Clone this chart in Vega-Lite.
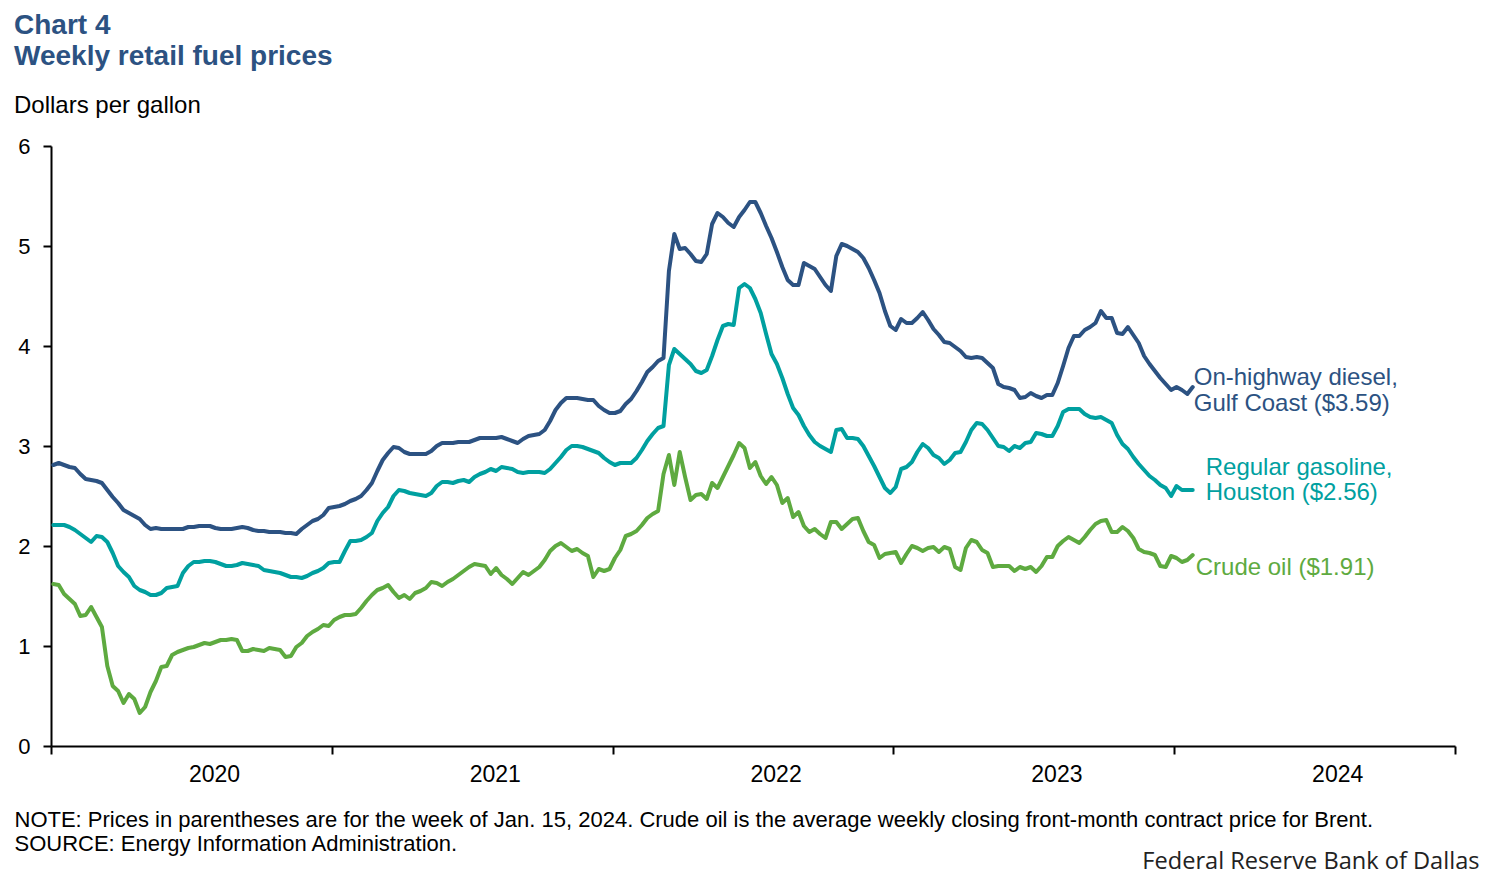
{
  "$schema": "https://vega.github.io/schema/vega-lite/v6.json",
  "width": 1404,
  "height": 600,
  "autosize": {"type": "none"},
  "padding": {"left": 51, "top": 146, "right": 39, "bottom": 136},
  "background": "white",
  "config": {
    "font": "Liberation Sans",
    "view": {"stroke": null},
    "axis": {"labelFont": "Liberation Sans", "titleFont": "Liberation Sans"},
    "title": {"font": "Liberation Sans", "subtitleFont": "Liberation Sans"}
  },
  "title": {
    "text": ["Chart 4", "Weekly retail fuel prices"],
    "subtitle": "Dollars per gallon",
    "anchor": "start",
    "frame": "group",
    "dx": -37,
    "fontSize": 28,
    "fontWeight": "bold",
    "color": "#2C5282",
    "lineHeight": 31,
    "subtitleFontSize": 24,
    "subtitleColor": "black",
    "subtitlePadding": 23,
    "offset": 17
  },
  "datasets": {
    "prices": [
      {"date":"2019-12-30","diesel":2.81,"gasoline":2.21,"crude":1.62},
      {"date":"2020-01-06","diesel":2.83,"gasoline":2.21,"crude":1.61},
      {"date":"2020-01-13","diesel":2.81,"gasoline":2.21,"crude":1.52},
      {"date":"2020-01-20","diesel":2.79,"gasoline":2.19,"crude":1.47},
      {"date":"2020-01-27","diesel":2.78,"gasoline":2.16,"crude":1.42},
      {"date":"2020-02-03","diesel":2.72,"gasoline":2.12,"crude":1.30},
      {"date":"2020-02-10","diesel":2.67,"gasoline":2.08,"crude":1.31},
      {"date":"2020-02-17","diesel":2.66,"gasoline":2.04,"crude":1.39},
      {"date":"2020-02-24","diesel":2.65,"gasoline":2.10,"crude":1.29},
      {"date":"2020-03-02","diesel":2.63,"gasoline":2.09,"crude":1.19},
      {"date":"2020-03-09","diesel":2.56,"gasoline":2.04,"crude":0.80},
      {"date":"2020-03-16","diesel":2.49,"gasoline":1.93,"crude":0.60},
      {"date":"2020-03-23","diesel":2.43,"gasoline":1.80,"crude":0.55},
      {"date":"2020-03-30","diesel":2.36,"gasoline":1.74,"crude":0.43},
      {"date":"2020-04-06","diesel":2.33,"gasoline":1.69,"crude":0.52},
      {"date":"2020-04-13","diesel":2.30,"gasoline":1.60,"crude":0.47},
      {"date":"2020-04-20","diesel":2.27,"gasoline":1.56,"crude":0.33},
      {"date":"2020-04-27","diesel":2.21,"gasoline":1.54,"crude":0.39},
      {"date":"2020-05-04","diesel":2.17,"gasoline":1.51,"crude":0.54},
      {"date":"2020-05-11","diesel":2.18,"gasoline":1.51,"crude":0.65},
      {"date":"2020-05-18","diesel":2.17,"gasoline":1.53,"crude":0.79},
      {"date":"2020-05-25","diesel":2.17,"gasoline":1.58,"crude":0.80},
      {"date":"2020-06-01","diesel":2.17,"gasoline":1.59,"crude":0.91},
      {"date":"2020-06-08","diesel":2.17,"gasoline":1.60,"crude":0.94},
      {"date":"2020-06-15","diesel":2.17,"gasoline":1.73,"crude":0.96},
      {"date":"2020-06-22","diesel":2.19,"gasoline":1.80,"crude":0.98},
      {"date":"2020-06-29","diesel":2.19,"gasoline":1.84,"crude":0.99},
      {"date":"2020-07-06","diesel":2.20,"gasoline":1.84,"crude":1.01},
      {"date":"2020-07-13","diesel":2.20,"gasoline":1.85,"crude":1.03},
      {"date":"2020-07-20","diesel":2.20,"gasoline":1.85,"crude":1.02},
      {"date":"2020-07-27","diesel":2.18,"gasoline":1.84,"crude":1.04},
      {"date":"2020-08-03","diesel":2.17,"gasoline":1.82,"crude":1.06},
      {"date":"2020-08-10","diesel":2.17,"gasoline":1.80,"crude":1.06},
      {"date":"2020-08-17","diesel":2.17,"gasoline":1.80,"crude":1.07},
      {"date":"2020-08-24","diesel":2.18,"gasoline":1.81,"crude":1.06},
      {"date":"2020-08-31","diesel":2.19,"gasoline":1.83,"crude":0.95},
      {"date":"2020-09-07","diesel":2.18,"gasoline":1.82,"crude":0.95},
      {"date":"2020-09-14","diesel":2.16,"gasoline":1.81,"crude":0.97},
      {"date":"2020-09-21","diesel":2.15,"gasoline":1.80,"crude":0.96},
      {"date":"2020-09-28","diesel":2.15,"gasoline":1.76,"crude":0.95},
      {"date":"2020-10-05","diesel":2.14,"gasoline":1.75,"crude":0.98},
      {"date":"2020-10-12","diesel":2.14,"gasoline":1.74,"crude":0.97},
      {"date":"2020-10-19","diesel":2.14,"gasoline":1.73,"crude":0.96},
      {"date":"2020-10-26","diesel":2.13,"gasoline":1.71,"crude":0.89},
      {"date":"2020-11-02","diesel":2.13,"gasoline":1.69,"crude":0.90},
      {"date":"2020-11-09","diesel":2.12,"gasoline":1.69,"crude":0.99},
      {"date":"2020-11-16","diesel":2.17,"gasoline":1.68,"crude":1.03},
      {"date":"2020-11-23","diesel":2.21,"gasoline":1.70,"crude":1.10},
      {"date":"2020-11-30","diesel":2.25,"gasoline":1.73,"crude":1.14},
      {"date":"2020-12-07","diesel":2.27,"gasoline":1.75,"crude":1.17},
      {"date":"2020-12-14","diesel":2.31,"gasoline":1.78,"crude":1.21},
      {"date":"2020-12-21","diesel":2.38,"gasoline":1.83,"crude":1.20},
      {"date":"2020-12-28","diesel":2.39,"gasoline":1.84,"crude":1.26},
      {"date":"2021-01-04","diesel":2.40,"gasoline":1.84,"crude":1.29},
      {"date":"2021-01-11","diesel":2.42,"gasoline":1.95,"crude":1.31},
      {"date":"2021-01-18","diesel":2.45,"gasoline":2.05,"crude":1.31},
      {"date":"2021-01-25","diesel":2.47,"gasoline":2.05,"crude":1.32},
      {"date":"2021-02-01","diesel":2.50,"gasoline":2.06,"crude":1.38},
      {"date":"2021-02-08","diesel":2.56,"gasoline":2.09,"crude":1.45},
      {"date":"2021-02-15","diesel":2.63,"gasoline":2.13,"crude":1.51},
      {"date":"2021-02-22","diesel":2.75,"gasoline":2.25,"crude":1.56},
      {"date":"2021-03-01","diesel":2.86,"gasoline":2.33,"crude":1.58},
      {"date":"2021-03-08","diesel":2.93,"gasoline":2.39,"crude":1.61},
      {"date":"2021-03-15","diesel":2.99,"gasoline":2.50,"crude":1.54},
      {"date":"2021-03-22","diesel":2.98,"gasoline":2.56,"crude":1.48},
      {"date":"2021-03-29","diesel":2.94,"gasoline":2.55,"crude":1.51},
      {"date":"2021-04-05","diesel":2.92,"gasoline":2.53,"crude":1.47},
      {"date":"2021-04-12","diesel":2.92,"gasoline":2.52,"crude":1.53},
      {"date":"2021-04-19","diesel":2.92,"gasoline":2.51,"crude":1.55},
      {"date":"2021-04-26","diesel":2.92,"gasoline":2.50,"crude":1.58},
      {"date":"2021-05-03","diesel":2.95,"gasoline":2.53,"crude":1.64},
      {"date":"2021-05-10","diesel":3.00,"gasoline":2.60,"crude":1.63},
      {"date":"2021-05-17","diesel":3.03,"gasoline":2.64,"crude":1.60},
      {"date":"2021-05-24","diesel":3.03,"gasoline":2.64,"crude":1.64},
      {"date":"2021-05-31","diesel":3.03,"gasoline":2.63,"crude":1.67},
      {"date":"2021-06-07","diesel":3.04,"gasoline":2.65,"crude":1.71},
      {"date":"2021-06-14","diesel":3.04,"gasoline":2.66,"crude":1.75},
      {"date":"2021-06-21","diesel":3.04,"gasoline":2.64,"crude":1.79},
      {"date":"2021-06-28","diesel":3.06,"gasoline":2.69,"crude":1.82},
      {"date":"2021-07-05","diesel":3.08,"gasoline":2.72,"crude":1.81},
      {"date":"2021-07-12","diesel":3.08,"gasoline":2.74,"crude":1.80},
      {"date":"2021-07-19","diesel":3.08,"gasoline":2.77,"crude":1.72},
      {"date":"2021-07-26","diesel":3.08,"gasoline":2.75,"crude":1.78},
      {"date":"2021-08-02","diesel":3.09,"gasoline":2.79,"crude":1.71},
      {"date":"2021-08-09","diesel":3.07,"gasoline":2.78,"crude":1.67},
      {"date":"2021-08-16","diesel":3.05,"gasoline":2.77,"crude":1.62},
      {"date":"2021-08-23","diesel":3.03,"gasoline":2.74,"crude":1.68},
      {"date":"2021-08-30","diesel":3.07,"gasoline":2.73,"crude":1.74},
      {"date":"2021-09-06","diesel":3.10,"gasoline":2.74,"crude":1.71},
      {"date":"2021-09-13","diesel":3.11,"gasoline":2.74,"crude":1.75},
      {"date":"2021-09-20","diesel":3.12,"gasoline":2.74,"crude":1.79},
      {"date":"2021-09-27","diesel":3.16,"gasoline":2.73,"crude":1.86},
      {"date":"2021-10-04","diesel":3.25,"gasoline":2.77,"crude":1.95},
      {"date":"2021-10-11","diesel":3.36,"gasoline":2.83,"crude":2.00},
      {"date":"2021-10-18","diesel":3.43,"gasoline":2.89,"crude":2.03},
      {"date":"2021-10-25","diesel":3.48,"gasoline":2.96,"crude":1.99},
      {"date":"2021-11-01","diesel":3.48,"gasoline":3.00,"crude":1.95},
      {"date":"2021-11-08","diesel":3.48,"gasoline":3.00,"crude":1.97},
      {"date":"2021-11-15","diesel":3.47,"gasoline":2.99,"crude":1.93},
      {"date":"2021-11-22","diesel":3.46,"gasoline":2.97,"crude":1.90},
      {"date":"2021-11-29","diesel":3.46,"gasoline":2.95,"crude":1.69},
      {"date":"2021-12-06","diesel":3.40,"gasoline":2.93,"crude":1.77},
      {"date":"2021-12-13","diesel":3.36,"gasoline":2.88,"crude":1.75},
      {"date":"2021-12-20","diesel":3.33,"gasoline":2.84,"crude":1.77},
      {"date":"2021-12-27","diesel":3.33,"gasoline":2.81,"crude":1.88},
      {"date":"2022-01-03","diesel":3.35,"gasoline":2.83,"crude":1.96},
      {"date":"2022-01-10","diesel":3.42,"gasoline":2.83,"crude":2.10},
      {"date":"2022-01-17","diesel":3.47,"gasoline":2.83,"crude":2.12},
      {"date":"2022-01-24","diesel":3.55,"gasoline":2.88,"crude":2.15},
      {"date":"2022-01-31","diesel":3.64,"gasoline":2.96,"crude":2.21},
      {"date":"2022-02-07","diesel":3.74,"gasoline":3.05,"crude":2.28},
      {"date":"2022-02-14","diesel":3.79,"gasoline":3.12,"crude":2.32},
      {"date":"2022-02-21","diesel":3.85,"gasoline":3.18,"crude":2.35},
      {"date":"2022-02-28","diesel":3.88,"gasoline":3.20,"crude":2.72},
      {"date":"2022-03-07","diesel":4.75,"gasoline":3.81,"crude":2.91},
      {"date":"2022-03-14","diesel":5.12,"gasoline":3.97,"crude":2.61},
      {"date":"2022-03-21","diesel":4.97,"gasoline":3.92,"crude":2.94},
      {"date":"2022-03-28","diesel":4.98,"gasoline":3.87,"crude":2.69},
      {"date":"2022-04-04","diesel":4.92,"gasoline":3.82,"crude":2.46},
      {"date":"2022-04-11","diesel":4.85,"gasoline":3.75,"crude":2.51},
      {"date":"2022-04-18","diesel":4.84,"gasoline":3.73,"crude":2.52},
      {"date":"2022-04-25","diesel":4.92,"gasoline":3.76,"crude":2.47},
      {"date":"2022-05-02","diesel":5.22,"gasoline":3.90,"crude":2.63},
      {"date":"2022-05-09","diesel":5.33,"gasoline":4.06,"crude":2.58},
      {"date":"2022-05-16","diesel":5.29,"gasoline":4.20,"crude":2.69},
      {"date":"2022-05-23","diesel":5.23,"gasoline":4.22,"crude":2.80},
      {"date":"2022-05-30","diesel":5.19,"gasoline":4.21,"crude":2.91},
      {"date":"2022-06-06","diesel":5.29,"gasoline":4.58,"crude":3.03},
      {"date":"2022-06-13","diesel":5.36,"gasoline":4.62,"crude":2.98},
      {"date":"2022-06-20","diesel":5.44,"gasoline":4.58,"crude":2.78},
      {"date":"2022-06-27","diesel":5.44,"gasoline":4.47,"crude":2.84},
      {"date":"2022-07-04","diesel":5.33,"gasoline":4.33,"crude":2.70},
      {"date":"2022-07-11","diesel":5.20,"gasoline":4.12,"crude":2.62},
      {"date":"2022-07-18","diesel":5.08,"gasoline":3.92,"crude":2.69},
      {"date":"2022-07-25","diesel":4.94,"gasoline":3.82,"crude":2.61},
      {"date":"2022-08-01","diesel":4.79,"gasoline":3.68,"crude":2.43},
      {"date":"2022-08-08","diesel":4.66,"gasoline":3.52,"crude":2.48},
      {"date":"2022-08-15","diesel":4.61,"gasoline":3.38,"crude":2.29},
      {"date":"2022-08-22","diesel":4.61,"gasoline":3.31,"crude":2.34},
      {"date":"2022-08-29","diesel":4.83,"gasoline":3.20,"crude":2.20},
      {"date":"2022-09-05","diesel":4.80,"gasoline":3.11,"crude":2.14},
      {"date":"2022-09-12","diesel":4.77,"gasoline":3.04,"crude":2.17},
      {"date":"2022-09-19","diesel":4.69,"gasoline":3.00,"crude":2.12},
      {"date":"2022-09-26","diesel":4.61,"gasoline":2.97,"crude":2.08},
      {"date":"2022-10-03","diesel":4.55,"gasoline":2.94,"crude":2.24},
      {"date":"2022-10-10","diesel":4.90,"gasoline":3.16,"crude":2.24},
      {"date":"2022-10-17","diesel":5.02,"gasoline":3.17,"crude":2.17},
      {"date":"2022-10-24","diesel":5.00,"gasoline":3.08,"crude":2.22},
      {"date":"2022-10-31","diesel":4.97,"gasoline":3.08,"crude":2.27},
      {"date":"2022-11-07","diesel":4.94,"gasoline":3.07,"crude":2.28},
      {"date":"2022-11-14","diesel":4.88,"gasoline":3.00,"crude":2.15},
      {"date":"2022-11-21","diesel":4.78,"gasoline":2.90,"crude":2.04},
      {"date":"2022-11-28","diesel":4.66,"gasoline":2.80,"crude":2.01},
      {"date":"2022-12-05","diesel":4.53,"gasoline":2.69,"crude":1.88},
      {"date":"2022-12-12","diesel":4.35,"gasoline":2.58,"crude":1.92},
      {"date":"2022-12-19","diesel":4.20,"gasoline":2.53,"crude":1.93},
      {"date":"2022-12-26","diesel":4.16,"gasoline":2.59,"crude":1.94},
      {"date":"2023-01-02","diesel":4.27,"gasoline":2.77,"crude":1.83},
      {"date":"2023-01-09","diesel":4.23,"gasoline":2.79,"crude":1.92},
      {"date":"2023-01-16","diesel":4.23,"gasoline":2.84,"crude":2.00},
      {"date":"2023-01-23","diesel":4.28,"gasoline":2.94,"crude":1.98},
      {"date":"2023-01-30","diesel":4.34,"gasoline":3.02,"crude":1.95},
      {"date":"2023-02-06","diesel":4.26,"gasoline":2.98,"crude":1.98},
      {"date":"2023-02-13","diesel":4.17,"gasoline":2.91,"crude":1.99},
      {"date":"2023-02-20","diesel":4.11,"gasoline":2.88,"crude":1.94},
      {"date":"2023-02-27","diesel":4.04,"gasoline":2.82,"crude":1.99},
      {"date":"2023-03-06","diesel":4.03,"gasoline":2.86,"crude":1.97},
      {"date":"2023-03-13","diesel":3.99,"gasoline":2.93,"crude":1.79},
      {"date":"2023-03-20","diesel":3.95,"gasoline":2.94,"crude":1.76},
      {"date":"2023-03-27","diesel":3.89,"gasoline":3.04,"crude":1.98},
      {"date":"2023-04-03","diesel":3.88,"gasoline":3.16,"crude":2.06},
      {"date":"2023-04-10","diesel":3.89,"gasoline":3.23,"crude":2.04},
      {"date":"2023-04-17","diesel":3.88,"gasoline":3.22,"crude":1.96},
      {"date":"2023-04-24","diesel":3.83,"gasoline":3.16,"crude":1.93},
      {"date":"2023-05-01","diesel":3.78,"gasoline":3.08,"crude":1.79},
      {"date":"2023-05-08","diesel":3.62,"gasoline":3.00,"crude":1.80},
      {"date":"2023-05-15","diesel":3.59,"gasoline":2.99,"crude":1.80},
      {"date":"2023-05-22","diesel":3.58,"gasoline":2.95,"crude":1.80},
      {"date":"2023-05-29","diesel":3.56,"gasoline":3.00,"crude":1.75},
      {"date":"2023-06-05","diesel":3.48,"gasoline":2.98,"crude":1.79},
      {"date":"2023-06-12","diesel":3.49,"gasoline":3.03,"crude":1.77},
      {"date":"2023-06-19","diesel":3.53,"gasoline":3.04,"crude":1.79},
      {"date":"2023-06-26","diesel":3.50,"gasoline":3.13,"crude":1.74},
      {"date":"2023-07-03","diesel":3.48,"gasoline":3.12,"crude":1.80},
      {"date":"2023-07-10","diesel":3.51,"gasoline":3.10,"crude":1.89},
      {"date":"2023-07-17","diesel":3.51,"gasoline":3.10,"crude":1.89},
      {"date":"2023-07-24","diesel":3.63,"gasoline":3.20,"crude":2.00},
      {"date":"2023-07-31","diesel":3.80,"gasoline":3.34,"crude":2.05},
      {"date":"2023-08-07","diesel":3.98,"gasoline":3.37,"crude":2.09},
      {"date":"2023-08-14","diesel":4.10,"gasoline":3.37,"crude":2.06},
      {"date":"2023-08-21","diesel":4.10,"gasoline":3.37,"crude":2.03},
      {"date":"2023-08-28","diesel":4.16,"gasoline":3.32,"crude":2.09},
      {"date":"2023-09-04","diesel":4.19,"gasoline":3.29,"crude":2.16},
      {"date":"2023-09-11","diesel":4.23,"gasoline":3.28,"crude":2.22},
      {"date":"2023-09-18","diesel":4.35,"gasoline":3.29,"crude":2.25},
      {"date":"2023-09-25","diesel":4.28,"gasoline":3.26,"crude":2.26},
      {"date":"2023-10-02","diesel":4.28,"gasoline":3.23,"crude":2.14},
      {"date":"2023-10-09","diesel":4.13,"gasoline":3.11,"crude":2.14},
      {"date":"2023-10-16","diesel":4.12,"gasoline":3.02,"crude":2.19},
      {"date":"2023-10-23","diesel":4.19,"gasoline":2.97,"crude":2.15},
      {"date":"2023-10-30","diesel":4.11,"gasoline":2.89,"crude":2.08},
      {"date":"2023-11-06","diesel":4.03,"gasoline":2.82,"crude":1.97},
      {"date":"2023-11-13","diesel":3.90,"gasoline":2.76,"crude":1.94},
      {"date":"2023-11-20","diesel":3.82,"gasoline":2.70,"crude":1.93},
      {"date":"2023-11-27","diesel":3.75,"gasoline":2.66,"crude":1.91},
      {"date":"2023-12-04","diesel":3.68,"gasoline":2.61,"crude":1.80},
      {"date":"2023-12-11","diesel":3.62,"gasoline":2.58,"crude":1.79},
      {"date":"2023-12-18","diesel":3.56,"gasoline":2.50,"crude":1.90},
      {"date":"2023-12-25","diesel":3.59,"gasoline":2.60,"crude":1.88},
      {"date":"2024-01-01","diesel":3.56,"gasoline":2.56,"crude":1.84},
      {"date":"2024-01-08","diesel":3.52,"gasoline":2.56,"crude":1.86},
      {"date":"2024-01-15","diesel":3.59,"gasoline":2.56,"crude":1.91}
    ],
    "labels": [
      {"series":"diesel","date":"2024-01-15","price":3.59,"label":["On-highway diesel,","Gulf Coast ($3.59)"]},
      {"series":"gasoline","date":"2024-01-15","price":2.56,"label":["Regular gasoline,","Houston ($2.56)"]},
      {"series":"crude","date":"2024-01-15","price":1.91,"label":["Crude oil ($1.91)"]}
    ]
  },
  "resolve": {"axis": {"y": "independent"}},
  "layer": [
    {
      "data": {"name": "prices"},
      "transform": [{"fold": ["diesel", "gasoline", "crude"], "as": ["series", "price"]}],
      "mark": {"type": "line", "strokeWidth": 4, "strokeCap": "round", "strokeJoin": "round"},
      "encoding": {
        "x": {
          "field": "date",
          "type": "temporal",
          "scale": {"domain": [{"year": 2019, "month": 12, "date": 27}, {"year": 2024, "month": 12, "date": 20}]},
          "axis": {
            "values": [
              {"year": 2019, "month": 12, "date": 27},
              {"year": 2020, "month": 12, "date": 25},
              {"year": 2021, "month": 12, "date": 24},
              {"year": 2022, "month": 12, "date": 23},
              {"year": 2023, "month": 12, "date": 22},
              {"year": 2024, "month": 12, "date": 20}
            ],
            "labelExpr": "datum.value < datetime(2024, 5, 1) ? '' + (year(datum.value) + 1) : ''",
            "labelOffset": 163,
            "labelFlush": false,
            "labelOverlap": false,
            "labelFontSize": 23,
            "labelColor": "black",
            "labelPadding": 9,
            "grid": false,
            "domainColor": "black",
            "domainWidth": 2,
            "tickColor": "black",
            "tickWidth": 2,
            "tickSize": 8,
            "title": ["NOTE: Prices in parentheses are for the week of Jan. 15, 2024. Crude oil is the average weekly closing front-month contract price for Brent.", "SOURCE: Energy Information Administration."],
            "titleAnchor": "start",
            "titleAlign": "left",
            "titleBaseline": "alphabetic",
            "titleX": -37,
            "titleY": 80,
            "titleFontSize": 22,
            "titleFontWeight": "normal",
            "titleLineHeight": 24,
            "titleColor": "black"
          }
        },
        "y": {
          "field": "price",
          "type": "quantitative",
          "scale": {"domain": [0, 6]},
          "axis": {
            "values": [0, 1, 2, 3, 4, 5, 6],
            "title": null,
            "grid": false,
            "domainColor": "black",
            "domainWidth": 2,
            "tickColor": "black",
            "tickWidth": 2,
            "tickSize": 8,
            "labelFontSize": 22,
            "labelColor": "black",
            "labelPadding": 13
          }
        },
        "color": {
          "field": "series",
          "type": "nominal",
          "scale": {"domain": ["diesel", "gasoline", "crude"], "range": ["#2C5282", "#00A0A0", "#5EAA40"]},
          "legend": null
        }
      }
    },
    {
      "data": {"name": "labels"},
      "transform": [{"filter": "datum.series === 'diesel'"}],
      "mark": {"type": "text", "align": "left", "baseline": "alphabetic", "dx": 1, "dy": -2, "fontSize": 24, "lineHeight": 26, "color": "#2C5282"},
      "encoding": {
        "x": {"field": "date", "type": "temporal"},
        "y": {"field": "price", "type": "quantitative", "axis": null},
        "text": {"field": "label"}
      }
    },
    {
      "data": {"name": "labels"},
      "transform": [{"filter": "datum.series === 'gasoline'"}],
      "mark": {"type": "text", "align": "left", "baseline": "alphabetic", "dx": 13, "dy": -15, "fontSize": 24, "lineHeight": 25, "color": "#00A0A0"},
      "encoding": {
        "x": {"field": "date", "type": "temporal"},
        "y": {"field": "price", "type": "quantitative", "axis": null},
        "text": {"field": "label"}
      }
    },
    {
      "data": {"name": "labels"},
      "transform": [{"filter": "datum.series === 'crude'"}],
      "mark": {"type": "text", "align": "left", "baseline": "alphabetic", "dx": 3, "dy": 20, "fontSize": 24, "color": "#5EAA40"},
      "encoding": {
        "x": {"field": "date", "type": "temporal"},
        "y": {
          "field": "price",
          "type": "quantitative",
          "axis": {
            "orient": "right",
            "domain": false,
            "ticks": false,
            "labels": false,
            "grid": false,
            "title": "Federal Reserve Bank of Dallas",
            "titleAngle": 0,
            "titleX": 24,
            "titleY": 722,
            "titleAlign": "right",
            "titleBaseline": "alphabetic",
            "titleFont": "Open Sans",
            "titleFontSize": 23.6,
            "titleFontWeight": "normal",
            "titleColor": "#222222"
          }
        },
        "text": {"field": "label"}
      }
    }
  ]
}
